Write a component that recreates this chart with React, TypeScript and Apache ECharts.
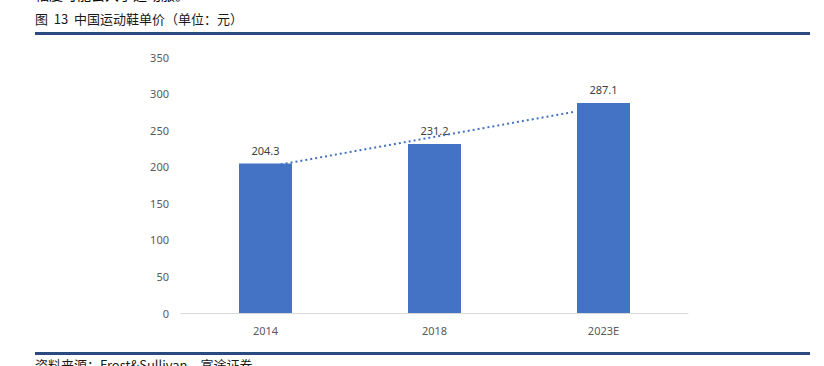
import React, { useEffect, useRef } from "react";
import * as echarts from "echarts";

const categories = ["2014", "2018", "2023E"];
const prices = [204.3, 231.2, 287.1];
const yTicks = { min: 0, max: 350, interval: 50 };
// dotted trend line endpoints (x in category-band units, centers at 0.5/1.5/2.5)
const trendPoints: [number, number][] = [
  [0.59, 203.1],
  [2.33, 275.2],
];

const title = "图  13  中国运动鞋单价（单位：元）";
const topCutText = "幅度可能会大于运动服。";
const sourceText = "资料来源：Frost&Sullivan，富途证券";

export default function App() {
  const ref = useRef<HTMLDivElement>(null);
  useEffect(() => {
    document.body.style.margin = "0";
    const chart = echarts.init(ref.current!, null, { renderer: "svg" });
    const numFont = "'Noto Sans', sans-serif";
    const cjkFont = "'Noto Sans CJK SC', sans-serif";
    chart.setOption({
      animation: false,
      backgroundColor: "#ffffff",
      grid: { left: 181, right: 136, top: 57, bottom: 53, containLabel: false },
      xAxis: [
        {
          type: "category",
          data: categories,
          axisLine: { lineStyle: { color: "#d9d9d9", width: 1 } },
          axisTick: { show: false },
          axisLabel: { color: "#595959", fontSize: 11, fontFamily: numFont, margin: 12 },
        },
        { type: "value", min: 0, max: 3, show: false },
      ],
      yAxis: {
        type: "value",
        min: yTicks.min,
        max: yTicks.max,
        interval: yTicks.interval,
        splitLine: { show: false },
        axisLine: { show: false },
        axisTick: { show: false },
        axisLabel: { color: "#595959", fontSize: 11, fontFamily: numFont, margin: 12 },
      },
      series: [
        {
          type: "bar",
          data: prices,
          barWidth: 53,
          itemStyle: { color: "#4472C4" },
          label: {
            show: true,
            position: "top",
            distance: 8,
            color: "#404040",
            fontSize: 11,
            fontFamily: numFont,
            formatter: (p: any) => p.value.toFixed(1),
          },
        },
        {
          type: "line",
          xAxisIndex: 1,
          data: trendPoints,
          symbol: "none",
          lineStyle: { color: "#4472C4", width: 2, type: [2, 3] },
          z: 5,
        },
      ],
      graphic: [
        {
          type: "text",
          left: 35,
          top: -13,
          style: { text: topCutText, font: `14px ${cjkFont}`, fill: "#000000" },
        },
        {
          type: "text",
          left: 35,
          top: 12,
          style: { text: title, font: `13px ${cjkFont}`, fill: "#1a1a1a" },
        },
        {
          type: "rect",
          shape: { x: 35, y: 32, width: 775, height: 3 },
          style: { fill: "#2b4a80" },
        },
        {
          type: "rect",
          shape: { x: 35, y: 352, width: 775, height: 3 },
          style: { fill: "#2b4a80" },
        },
        {
          type: "text",
          left: 35,
          top: 358,
          style: { text: sourceText, font: `13px ${cjkFont}`, fill: "#1a1a1a" },
        },
      ],
    });
    return () => chart.dispose();
  }, []);
  return (
    <div
      ref={ref}
      style={{ position: "fixed", left: 0, top: 0, width: 824, height: 366 }}
    />
  );
}
